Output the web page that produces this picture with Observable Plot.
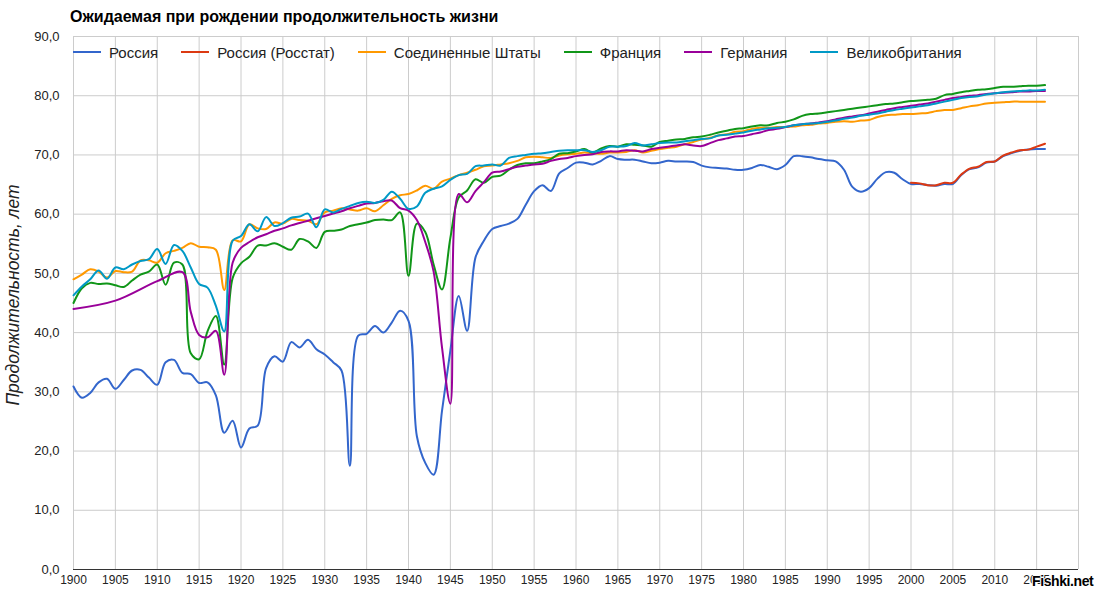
<!DOCTYPE html>
<html>
<head>
<meta charset="utf-8">
<script src="https://cdn.jsdelivr.net/npm/d3@7"></script>
<script src="https://cdn.jsdelivr.net/npm/@observablehq/plot@0.6"></script>
<style>
  html, body { margin: 0; padding: 0; background: #fff; }
  body { width: 1100px; height: 594px; overflow: hidden; position: relative; font-family: "Liberation Sans", Arial, sans-serif; }
  #title { height: 26px; box-sizing: border-box; padding: 8px 0 0 70px; font-size: 16px; line-height: 18px; font-weight: bold; color: #000; }
  #legend { position: absolute; top: 43px; left: 73px; height: 18px; display: flex; align-items: center; font-size: 15px; color: #222; white-space: nowrap; }
  #legend .item { display: flex; align-items: center; margin-right: 23px; }
  #legend .sw { width: 28px; height: 2px; margin-right: 8px; }
  #ylab { position: absolute; left: 13px; top: 295px; transform: translate(-50%, -50%) rotate(-90deg); white-space: nowrap;
          font-style: italic; font-size: 17.5px; color: #222; line-height: 18px; }
  #wm { position: absolute; left: 1032px; top: 573px; font-size: 14px; font-weight: bold; color: #000; letter-spacing: -0.4px;
        text-shadow: -1px 0 #fff, 1px 0 #fff, 0 -1px #fff, 0 1px #fff; }
</style>
</head>
<body>
<div id="title"></div>
<div id="chart"></div>
<div id="legend"></div>
<div id="ylab"></div>
<div id="wm">Fishki.net</div>
<script>
const titleText = "Ожидаемая при рождении продолжительность жизни";
const yLabel = "Продолжительность, лет";
const seriesNames = ["Россия", "Россия (Росстат)", "Соединенные Штаты", "Франция", "Германия", "Великобритания"];
const seriesColors = ["#3366cc", "#dc3912", "#ff9900", "#109618", "#990099", "#0099c6"];
const xTickLabels = [1900,1905,1910,1915,1920,1925,1930,1935,1940,1945,1950,1955,1960,1965,1970,1975,1980,1985,1990,1995,2000,2005,2010,2015];
const xGrid = [1900,1905,1910,1915,1920,1925,1930,1935,1940,1945,1950,1955,1960,1965,1970,1975,1980,1985,1990,1995,2000,2005,2010,2015,2020];
const yTicks = [0,10,20,30,40,50,60,70,80,90];

// Annual values, first year given separately
const russiaStart = 1900;
const russia = [30.9,29.0,29.8,31.6,32.2,30.5,32.0,33.6,33.7,32.4,
  31.2,35.0,35.4,33.2,33.0,31.5,31.6,29.4,23.1,25.1,
  20.6,23.8,24.3,34.0,36.0,35.1,38.4,37.5,38.8,37.2,
  36.3,35.0,33.6,17.5,39.5,39.8,41.1,40.0,41.7,43.7,
  42.0,22.5,18.0,16.0,26.8,37.0,46.2,40.3,52.7,55.5,
  57.5,58.0,58.4,59.2,61.6,63.9,64.9,63.9,66.9,67.8,
  68.7,68.7,68.4,69.0,69.8,69.3,69.2,69.2,68.9,68.6,
  68.7,69.0,68.9,68.9,68.8,68.2,67.9,67.8,67.7,67.5,
  67.5,67.8,68.3,68.0,67.6,68.3,69.8,69.8,69.6,69.3,
  69.1,68.9,67.5,64.6,63.8,64.4,66.0,67.1,67.0,65.9,
  65.1,65.1,64.9,64.8,65.1,65.1,66.6,67.6,67.9,68.7,
  68.9,69.8,70.3,70.7,70.9,71.0,71.0];
const rosstatStart = 2000;
const rosstat = [65.3,65.2,64.9,64.9,65.3,65.3,66.7,67.7,68.0,68.8,
  68.9,69.9,70.4,70.8,70.9,71.4,71.9];
const usaStart = 1900;
const usa = [49.0,49.8,50.7,50.3,49.3,50.4,50.2,50.3,52.2,52.2,
  51.8,53.4,53.8,54.3,55.1,54.5,54.4,54.0,47.2,55.6,
  55.4,58.3,57.6,57.5,58.6,58.4,59.2,59.0,58.9,58.3,
  60.3,60.6,61.0,60.8,60.6,61.0,60.5,61.5,62.6,63.2,
  63.4,64.0,64.8,64.3,65.5,66.0,66.6,67.0,67.5,68.1,
  68.2,68.4,68.6,69.0,69.6,69.7,69.6,69.5,69.9,70.1,
  70.2,70.4,70.3,70.2,70.4,70.4,70.5,70.8,70.4,70.7,
  71.0,71.2,71.4,71.8,72.2,72.6,72.9,73.3,73.5,73.9,
  74.0,74.4,74.6,74.6,74.7,74.7,74.8,75.0,75.1,75.3,
  75.4,75.6,75.7,75.6,75.8,75.9,76.4,76.7,76.8,76.9,
  76.9,77.0,77.1,77.4,77.6,77.6,77.9,78.2,78.4,78.7,
  78.8,78.9,79.0,79.0,79.0,79.0,79.0];
const franceStart = 1900;
const france = [45.0,47.5,48.4,48.2,48.3,48.0,47.7,48.8,49.8,50.3,
  51.5,48.1,51.8,51.5,36.5,35.5,40.2,42.8,34.6,49.2,
  51.7,52.8,54.7,54.7,55.1,54.5,54.0,55.8,55.4,54.3,
  57.0,57.2,57.4,58.0,58.3,58.6,59.0,59.1,59.0,60.3,
  49.6,58.4,57.0,51.5,47.3,56.0,62.8,64.0,65.9,65.3,
  66.3,66.5,67.5,68.3,68.6,68.6,68.9,69.3,70.2,70.3,
  70.6,71.0,70.4,71.1,71.5,71.4,71.8,71.7,71.6,71.4,
  72.2,72.4,72.6,72.7,73.0,73.1,73.4,73.8,74.1,74.4,
  74.5,74.8,75.0,75.0,75.4,75.6,76.0,76.6,76.9,77.0,
  77.2,77.4,77.6,77.8,78.0,78.2,78.4,78.6,78.7,78.9,
  79.1,79.2,79.3,79.5,80.1,80.3,80.6,80.8,81.0,81.1,
  81.3,81.5,81.5,81.6,81.7,81.7,81.8];
// Germany: sparse before 1913, then annual
const germanyEarly = [[1900,44.0],[1905,45.4],[1910,48.7]];
const germanyStart = 1913;
const germany = [50.2,43.5,39.6,39.2,40.3,32.9,51.8,
  54.3,55.3,56.1,56.6,57.2,57.6,58.1,58.5,58.9,59.3,
  59.7,60.1,60.5,61.0,61.4,61.8,61.9,62.2,62.3,61.0,
  60.6,59.0,55.3,50.3,37.5,28.0,63.4,62.0,63.9,65.4,
  67.0,67.2,67.6,68.0,68.2,68.4,68.5,69.0,69.3,69.5,
  69.8,70.0,70.1,70.5,70.6,70.6,70.8,70.7,70.6,71.0,
  71.2,71.4,71.6,71.8,71.6,71.5,72.0,72.5,72.8,73.1,
  73.2,73.5,73.8,74.2,74.4,74.7,75.0,75.2,75.3,75.5,
  75.7,76.0,76.3,76.5,76.7,77.0,77.3,77.6,77.9,78.1,
  78.3,78.5,78.7,79.0,79.3,79.6,79.8,80.0,80.1,80.3,
  80.4,80.5,80.6,80.7,80.7,80.8,80.8];
const ukStart = 1900;
const uk = [46.3,47.8,49.0,50.5,49.1,51.0,50.7,51.5,52.1,52.4,
  54.1,51.6,54.8,53.8,51.0,48.2,47.6,44.5,40.2,55.5,
  56.3,58.3,57.1,59.5,58.0,58.5,59.4,59.6,60.1,57.8,
  60.8,60.3,60.9,61.4,61.9,62.1,61.9,62.4,63.8,62.6,
  60.9,61.3,63.6,64.3,64.7,65.8,66.6,66.8,68.1,68.2,
  68.4,68.2,69.5,69.8,70.0,70.2,70.3,70.5,70.7,70.8,
  70.8,70.8,70.5,70.8,71.4,71.4,71.5,72.0,71.6,71.8,
  72.0,72.1,72.1,72.3,72.5,72.7,72.8,73.3,73.4,73.6,
  73.8,74.1,74.3,74.5,74.6,74.7,75.0,75.2,75.3,75.4,
  75.6,75.8,76.1,76.3,76.6,76.8,77.0,77.3,77.6,77.8,
  78.0,78.2,78.4,78.7,79.0,79.3,79.6,79.8,79.9,80.2,
  80.4,80.6,80.7,80.8,80.9,80.9,81.0];

const annual = (start, values) => values.map((v, i) => [start + i, v]);
const seriesData = [
  annual(russiaStart, russia),
  annual(rosstatStart, rosstat),
  annual(usaStart, usa),
  annual(franceStart, france),
  germanyEarly.concat(annual(germanyStart, germany)),
  annual(ukStart, uk)
];
const rows = seriesData.flatMap((pts, k) => pts.map(([year, value]) => ({series: seriesNames[k], year, value})));

document.getElementById("title").textContent = titleText;
document.getElementById("ylab").textContent = yLabel;
const legend = document.getElementById("legend");
seriesNames.forEach((n, i) => {
  const it = document.createElement("div"); it.className = "item";
  const sw = document.createElement("span"); sw.className = "sw"; sw.style.background = seriesColors[i];
  const tx = document.createElement("span"); tx.textContent = n;
  it.appendChild(sw); it.appendChild(tx); legend.appendChild(it);
});

const chart = Plot.plot({
  width: 1100,
  height: 568,
  marginLeft: 73,
  marginRight: 22,
  marginTop: 10,
  marginBottom: 25,
  style: {fontFamily: "'Liberation Sans', Arial, sans-serif", fontSize: "12px", color: "#222", background: "transparent", overflow: "visible"},
  x: {domain: [1900, 2020]},
  y: {domain: [0, 90]},
  color: {domain: seriesNames, range: seriesColors},
  marks: [
    Plot.gridX(xGrid, {stroke: "#cccccc", strokeOpacity: 1}),
    Plot.gridY(yTicks.filter(d => d > 0), {stroke: "#cccccc", strokeOpacity: 1}),
    Plot.ruleY([0], {stroke: "#333333", strokeWidth: 1}),
    Plot.axisX({ticks: xTickLabels, tickSize: 0, tickPadding: 6, tickFormat: d => String(d), label: null}),
    Plot.axisY({ticks: yTicks, tickSize: 0, tickPadding: 14, tickFormat: d => d.toFixed(1).replace(".", ","), fontSize: 13, label: null}),
    Plot.line(rows, {x: "year", y: "value", z: "series", stroke: "series", strokeWidth: 2, curve: "catmull-rom"})
  ]
});
document.getElementById("chart").appendChild(chart);
</script>
</body>
</html>
